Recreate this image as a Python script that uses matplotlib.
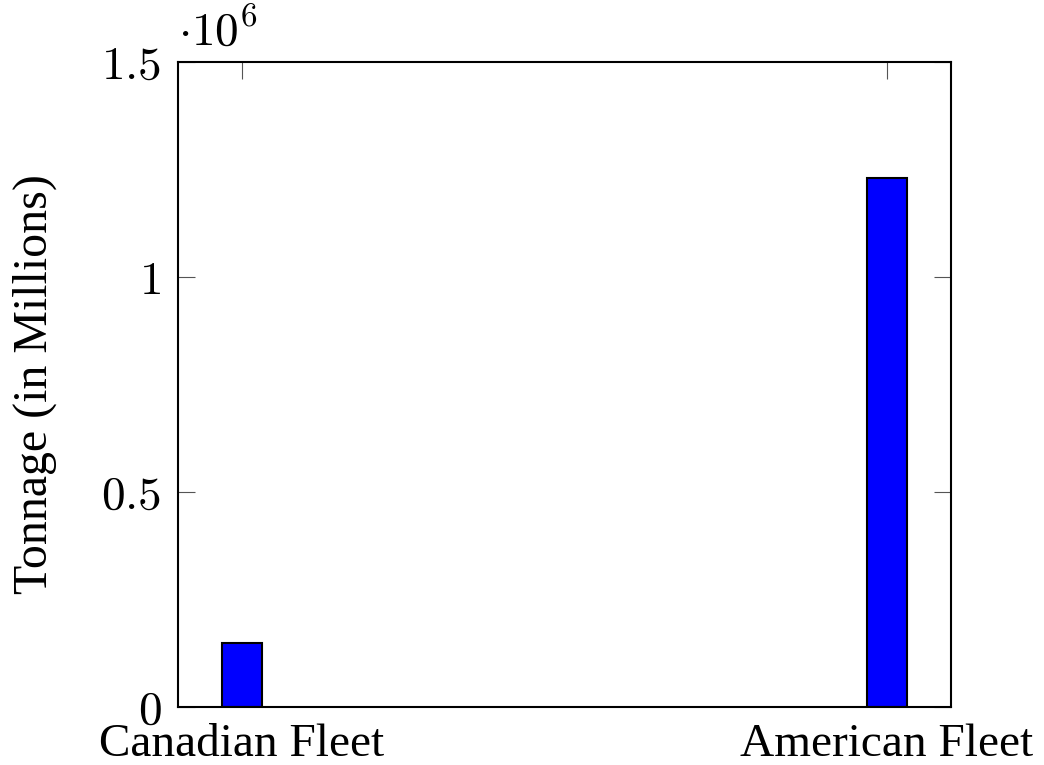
import matplotlib
matplotlib.use("Agg")
import matplotlib.pyplot as plt

fleets = ["Canadian Fleet", "American Fleet"]
tonnage = [147000, 1229000]
y_ticks = [0, 0.5e6, 1e6, 1.5e6]
y_tick_labels = [r"$0$", r"$0.5$", r"$1$", r"$1.5$"]

plt.rcParams["mathtext.fontset"] = "cm"

fig = plt.figure(figsize=(10.44, 7.65), dpi=100)
ax = fig.add_axes([0.1705, 0.0762, 0.7404, 0.8431])
ax.set_axisbelow(True)

pos = list(range(len(fleets)))
ax.bar(pos, tonnage, width=0.062, color="#0000ff", edgecolor="black", linewidth=1.5)

ax.set_xlim(-0.0992, 1.0992)
ax.set_ylim(0, 1.5e6)
ax.set_xticks(pos)
ax.set_xticklabels(fleets, fontsize=34, family="Liberation Serif")
ax.set_yticks(y_ticks)
ax.set_yticklabels(y_tick_labels, fontsize=34)

ax.tick_params(direction="in", length=12, width=0.8, color="#555555",
               top=True, right=True, pad=12)
ax.tick_params(axis="x", pad=12)
for s in ax.spines.values():
    s.set_linewidth(1.5)

ax.set_ylabel("Tonnage (in Millions)", fontsize=34.5, family="Liberation Serif", labelpad=32)
ax.text(0.0, 1.01, r"$\cdot10^{6}$", transform=ax.transAxes, fontsize=34,
        ha="left", va="bottom")

fig.savefig("out.png", dpi=100)
